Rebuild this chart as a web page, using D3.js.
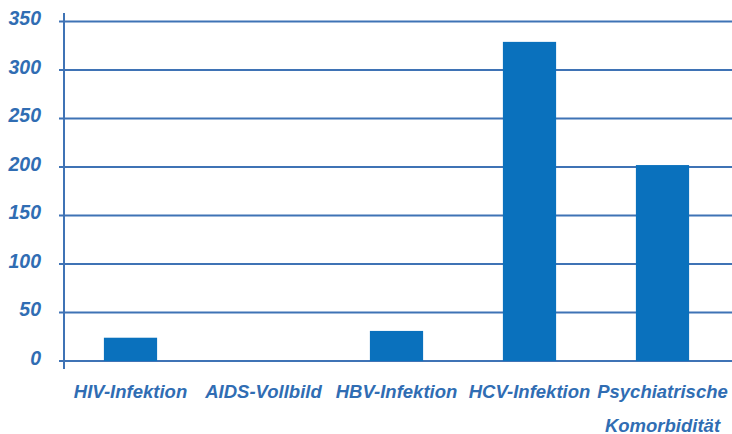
<!DOCTYPE html>
<html>
<head>
<meta charset="utf-8">
<script src="https://cdn.jsdelivr.net/npm/d3@7"></script>
<style>
  body { margin: 0; background: #fff; }
  text { font-family: "Liberation Sans", Arial, sans-serif; font-style: italic; font-weight: bold; fill: #306db3; }
</style>
</head>
<body>
<svg width="732" height="434"></svg>
<script>
// Fälle je Diagnose
var categories = [["HIV-Infektion"], ["AIDS-Vollbild"], ["HBV-Infektion"], ["HCV-Infektion"], ["Psychiatrische", "Komorbidität"]];
var values = [24, 0, 31, 329, 202];
var yTicks = [0, 50, 100, 150, 200, 250, 300, 350];

var svg = d3.select("svg"),
    width = +svg.attr("width"),
    height = +svg.attr("height");

var lineColor = "#3f73b5",
    barColor = "#0a71bd";

var x = d3.scaleBand()
    .domain(categories.map(function(d) { return d.join(" "); }))
    .range([64, 729])
    .paddingInner(0.6)
    .paddingOuter(0.3);

var y = d3.scaleLinear()
    .domain([0, 350])
    .range([361, 21.5]);

// gridlines
svg.append("g")
    .selectAll("line")
    .data(yTicks)
    .enter().append("line")
    .attr("x1", 59)
    .attr("x2", width)
    .attr("y1", function(d) { return y(d); })
    .attr("y2", function(d) { return y(d); })
    .style("stroke", lineColor)
    .style("stroke-width", 2);

// y axis line
svg.append("line")
    .attr("x1", 64).attr("x2", 64)
    .attr("y1", 13).attr("y2", 369)
    .style("stroke", lineColor)
    .style("stroke-width", 2);

// tick labels
svg.append("g")
    .selectAll("text")
    .data(yTicks)
    .enter().append("text")
    .attr("x", 41)
    .attr("y", function(d) { return y(d) + 3.5; })
    .attr("text-anchor", "end")
    .style("font-size", "19.5px")
    .text(function(d) { return d; });

// bars
svg.append("g")
    .selectAll("rect")
    .data(values)
    .enter().append("rect")
    .attr("x", function(d, i) { return x(categories[i].join(" ")); })
    .attr("y", function(d) { return y(d); })
    .attr("width", x.bandwidth())
    .attr("height", function(d) { return y(0) - y(d); })
    .style("fill", barColor);

// category labels
var lbl = svg.append("g")
    .selectAll("text")
    .data(categories)
    .enter().append("text")
    .attr("x", function(d) { return x(d.join(" ")) + x.bandwidth() / 2; })
    .attr("y", 397.5)
    .attr("text-anchor", "middle")
    .style("font-size", "18.5px");

lbl.selectAll("tspan")
    .data(function(d) { return d; })
    .enter().append("tspan")
    .attr("x", function() { return d3.select(this.parentNode).attr("x"); })
    .attr("dy", function(d, i) { return i ? 34 : 0; })
    .text(function(d) { return d; });
</script>
</body>
</html>
